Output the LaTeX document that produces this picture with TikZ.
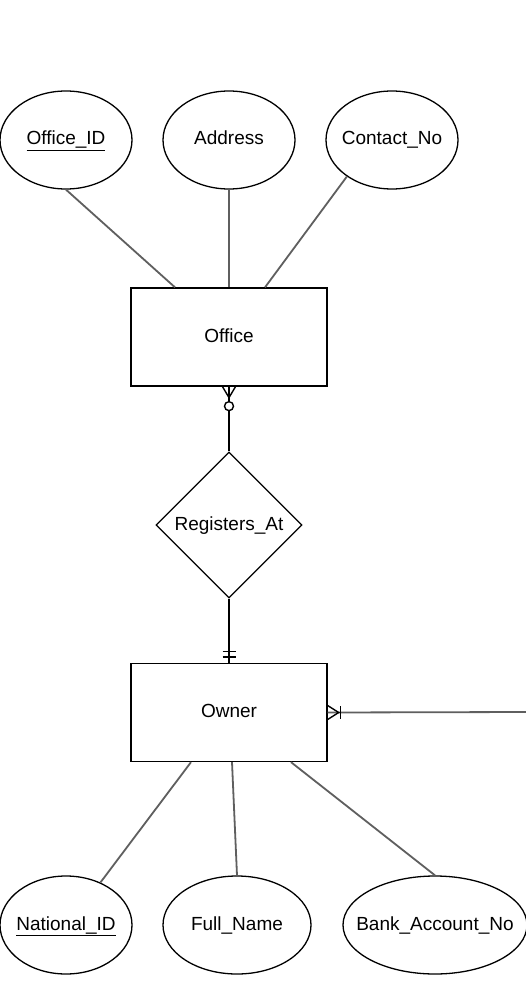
\documentclass[tikz,border=0pt]{standalone}
\usepackage{fontspec}
\setmainfont{Liberation Sans}
\usetikzlibrary{shapes.geometric,calc}
\definecolor{attrline}{HTML}{5F5F5F}
\begin{document}
\begin{tikzpicture}[x=1pt,y=-1pt,
  every node/.style={font=\fontsize{19}{22}\selectfont,text height=13.5pt,text depth=3.5pt},
  attr/.style={draw=black,line width=1.3pt,ellipse,inner sep=0pt,minimum height=98pt,
    label={[anchor=center,inner sep=0pt]center:{#1}}},
  ent/.style={draw=black,line width=1.3pt,rectangle,minimum width=196pt,minimum height=98pt,inner sep=0pt},
  rel/.style={draw=black,line width=1.3pt,diamond,minimum width=146pt,minimum height=146pt,inner sep=0pt},
  aline/.style={draw=attrline,line width=1.8pt},
  rline/.style={draw=black,line width=1.5pt},
  cmark/.style={draw=black,line width=1.4pt}]
\useasboundingbox (0,0) rectangle (526,1000);
\fill[white] (0,0) rectangle (526,1000);
% attributes of Office
\node[attr={\underline{Office\_ID}},minimum width=132pt] (oid) at (66,140) {};
\node[attr={Address},minimum width=132pt] (addr) at (229,140) {};
\node[attr={Contact\_No},minimum width=132pt] (cno) at (392,140) {};
% entities / relation
\node[ent] (office) at (229,337) {Office};
\node[rel] (reg) at (229,525) {};
\node[anchor=center,inner sep=0pt] (regtxt) at (reg.center) {Registers\_At};
\node[ent] (owner) at (229,712.5) {Owner};
% attributes of Owner
\node[attr={\underline{National\_ID}},minimum width=132pt] (nid) at (66,925) {};
\node[attr={Full\_Name},minimum width=148pt] (fn) at (237,925) {};
\node[attr={Bank\_Account\_No},minimum width=184pt] (bank) at (435,925) {};
% attribute connectors
\draw[aline] (oid.south) -- ($(office.north)+(-54,0)$);
\draw[aline] (addr.south) -- (office.north);
\draw[aline] (cno.219) -- ($(office.north)+(36,0)$);
\draw[aline] (nid.51) -- ($(owner.south)+(-38,0)$);
\draw[aline] (fn.north) -- ($(owner.south)+(3,0)$);
\draw[aline] (bank.north) -- ($(owner.south)+(62,0)$);
% relationship connectors
\draw[rline] (office.south) -- (reg.north);
\draw[rline] (reg.south) -- (owner.north);
\coordinate (rend) at (526,712);
\draw[aline] (owner.east) -- (rend);
% zero-or-many at Office
\draw[cmark,fill=white] ($(office.south)+(0,19.5)$) circle (4.5pt);
\draw[cmark] ($(office.south)+(-6.5,0)$) -- ($(office.south)+(0,11)$) -- ($(office.south)+(6.5,0)$);
% one-and-only-one at Owner top
\draw[cmark] ($(owner.north)+(-6.5,-11.5)$) -- ($(owner.north)+(6.5,-11.5)$);
\draw[cmark] ($(owner.north)+(-6.5,-6)$) -- ($(owner.north)+(6.5,-6)$);
% one-or-many at Owner right
\draw[cmark] ($(owner.east)+(0,-7)$) -- ($(owner.east)+(11,0)$) -- ($(owner.east)+(0,7)$);
\draw[cmark] ($(owner.east)+(13,-6.5)$) -- ($(owner.east)+(13,6.5)$);
\end{tikzpicture}
\end{document}
